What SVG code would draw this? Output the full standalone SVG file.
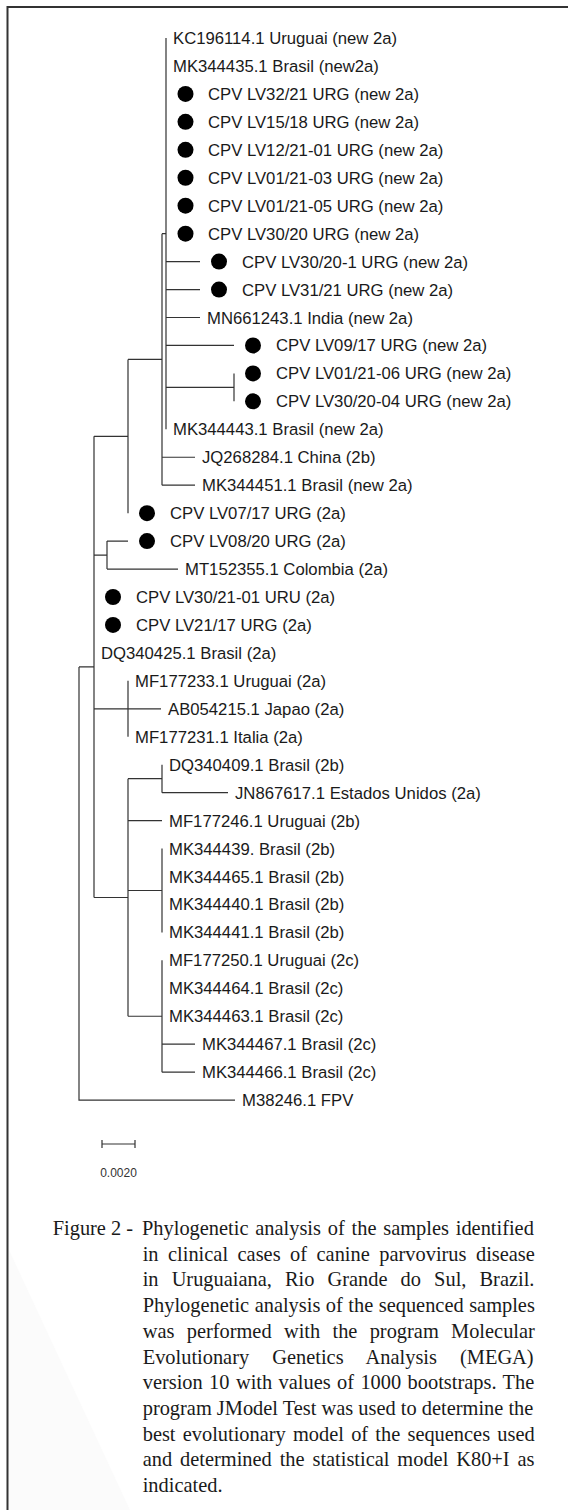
<svg xmlns="http://www.w3.org/2000/svg" width="568" height="1510" viewBox="0 0 568 1510">
<style>
.br{fill:none;stroke:#333;stroke-width:1.2}
.lb{font-family:"Liberation Sans",Arial,sans-serif;font-size:16.7px;fill:#1a1a1a}
.dt{fill:#000}
.cap{font-family:"Liberation Serif","Times New Roman",serif;font-size:20.4px;fill:#1a1a1a}
.sc{font-family:"Liberation Sans",Arial,sans-serif;font-size:12px;fill:#333}
</style>
<rect width="568" height="1510" fill="#fff"/>
<polygon points="9,1250 9,1510 130,1510" fill="#fbfbfb"/>
<path d="M7.5,1510 V7 H568" fill="none" stroke="#333" stroke-width="2"/>
<g id="connectors" class="br">
<path d="M79,666.9 V1100.1 H235 M79,666.9 H94"/>
<path d="M94,436.3 V897.5 M94,436.3 H128 M94,555.1 H107 M94,708.8 H128 M94,897.5 H128"/>
<path d="M128,359.4 V513.15 M128,359.4 H162"/>
<path d="M162,233.65 V485.2 M162,233.65 H166 M162,457.25 H195 M162,485.2 H195"/>
<path d="M166,38 V429.3 M166,261.6 H200 M166,289.55 H200 M166,317.5 H200 M166,345.45 H234 M166,387.4 H234"/>
<path d="M234,373.4 V401.35"/>
<path d="M107,541.1 V569.05 M107,541.1 H128 M107,569.05 H178"/>
<path d="M128,680.85 V736.75 M128,708.8 H161"/>
<path d="M128,778.7 V1016.25 M128,778.7 H162 M128,820.6 H162 M128,890.5 H162 M128,1016.25 H162"/>
<path d="M162,764.7 V792.65 M162,792.65 H228"/>
<path d="M162,848.55 V932.4"/>
<path d="M162,960.35 V1072.15 M162,1044.2 H195 M162,1072.15 H195"/>
</g>
<g id="n1"><text class="lb" x="173" y="44">KC196114.1 Uruguai (new 2a)</text></g>
<g id="n2"><text class="lb" x="173" y="72">MK344435.1 Brasil (new2a)</text></g>
<g id="n3"><circle class="dt" cx="185.5" cy="93.9" r="8"/><text class="lb" x="208" y="99.9">CPV LV32/21 URG (new 2a)</text></g>
<g id="n4"><circle class="dt" cx="185.5" cy="121.85" r="8"/><text class="lb" x="208" y="127.85">CPV LV15/18 URG (new 2a)</text></g>
<g id="n5"><circle class="dt" cx="185.5" cy="149.8" r="8"/><text class="lb" x="208" y="155.8">CPV LV12/21-01 URG (new 2a)</text></g>
<g id="n6"><circle class="dt" cx="185.5" cy="177.75" r="8"/><text class="lb" x="208" y="183.75">CPV LV01/21-03 URG (new 2a)</text></g>
<g id="n7"><circle class="dt" cx="185.5" cy="205.7" r="8"/><text class="lb" x="208" y="211.7">CPV LV01/21-05 URG (new 2a)</text></g>
<g id="n8"><circle class="dt" cx="185.5" cy="233.65" r="8"/><text class="lb" x="208" y="239.65">CPV LV30/20 URG (new 2a)</text></g>
<g id="n9"><circle class="dt" cx="219" cy="261.6" r="8"/><text class="lb" x="242" y="267.6">CPV LV30/20-1 URG (new 2a)</text></g>
<g id="n10"><circle class="dt" cx="219" cy="289.55" r="8"/><text class="lb" x="242" y="295.55">CPV LV31/21 URG (new 2a)</text></g>
<g id="n11"><text class="lb" x="207" y="323.5">MN661243.1 India (new 2a)</text></g>
<g id="n12"><circle class="dt" cx="253" cy="345.45" r="8"/><text class="lb" x="276" y="351.45">CPV LV09/17 URG (new 2a)</text></g>
<g id="n13"><circle class="dt" cx="253" cy="373.4" r="8"/><text class="lb" x="276" y="379.4">CPV LV01/21-06 URG (new 2a)</text></g>
<g id="n14"><circle class="dt" cx="253" cy="401.35" r="8"/><text class="lb" x="276" y="407.35">CPV LV30/20-04 URG (new 2a)</text></g>
<g id="n15"><text class="lb" x="173" y="435.3">MK344443.1 Brasil (new 2a)</text></g>
<g id="n16"><text class="lb" x="202" y="463.25">JQ268284.1 China (2b)</text></g>
<g id="n17"><text class="lb" x="202" y="491.2">MK344451.1 Brasil (new 2a)</text></g>
<g id="n18"><circle class="dt" cx="147" cy="513.15" r="8"/><text class="lb" x="170" y="519.15">CPV LV07/17 URG (2a)</text></g>
<g id="n19"><circle class="dt" cx="147" cy="541.1" r="8"/><text class="lb" x="170" y="547.1">CPV LV08/20 URG (2a)</text></g>
<g id="n20"><text class="lb" x="185" y="575.05">MT152355.1 Colombia (2a)</text></g>
<g id="n21"><circle class="dt" cx="113" cy="597" r="8"/><text class="lb" x="136" y="603">CPV LV30/21-01 URU (2a)</text></g>
<g id="n22"><circle class="dt" cx="113" cy="624.95" r="8"/><text class="lb" x="136" y="630.95">CPV LV21/17 URG (2a)</text></g>
<g id="n23"><text class="lb" x="101" y="658.9">DQ340425.1 Brasil (2a)</text></g>
<g id="n24"><text class="lb" x="135" y="686.85">MF177233.1 Uruguai (2a)</text></g>
<g id="n25"><text class="lb" x="168" y="714.8">AB054215.1 Japao (2a)</text></g>
<g id="n26"><text class="lb" x="135" y="742.75">MF177231.1 Italia (2a)</text></g>
<g id="n27"><text class="lb" x="169" y="770.7">DQ340409.1 Brasil (2b)</text></g>
<g id="n28"><text class="lb" x="235" y="798.65">JN867617.1 Estados Unidos (2a)</text></g>
<g id="n29"><text class="lb" x="169" y="826.6">MF177246.1 Uruguai (2b)</text></g>
<g id="n30"><text class="lb" x="169" y="854.55">MK344439. Brasil (2b)</text></g>
<g id="n31"><text class="lb" x="169" y="882.5">MK344465.1 Brasil (2b)</text></g>
<g id="n32"><text class="lb" x="169" y="910.45">MK344440.1 Brasil (2b)</text></g>
<g id="n33"><text class="lb" x="169" y="938.4">MK344441.1 Brasil (2b)</text></g>
<g id="n34"><text class="lb" x="169" y="966.35">MF177250.1 Uruguai (2c)</text></g>
<g id="n35"><text class="lb" x="169" y="994.3">MK344464.1 Brasil (2c)</text></g>
<g id="n36"><text class="lb" x="169" y="1022.25">MK344463.1 Brasil (2c)</text></g>
<g id="n37"><text class="lb" x="202" y="1050.2">MK344467.1 Brasil (2c)</text></g>
<g id="n38"><text class="lb" x="202" y="1078.15">MK344466.1 Brasil (2c)</text></g>
<g id="n39"><text class="lb" x="242" y="1106.1">M38246.1 FPV</text></g>
<g id="scalebar">
<path d="M102,1144 H135 M102,1140 V1148 M135,1140 V1148" fill="none" stroke="#333" stroke-width="1.2"/>
<text class="sc" x="118.5" y="1177" text-anchor="middle">0.0020</text>
</g>
<g id="caption" class="cap">
<text x="52.7" y="1235">Figure 2 -</text>
<text x="142" y="1235" word-spacing="1.7">Phylogenetic analysis of the samples identified</text>
<text x="142.7" y="1260.7" word-spacing="4.4">in clinical cases of canine parvovirus disease</text>
<text x="142.7" y="1286.4" word-spacing="8">in Uruguaiana, Rio Grande do Sul, Brazil.</text>
<text x="142.7" y="1312.1" word-spacing="0.4">Phylogenetic analysis of the sequenced samples</text>
<text x="142.7" y="1337.8" word-spacing="7.2">was performed with the program Molecular</text>
<text x="142.7" y="1363.5" word-spacing="18">Evolutionary Genetics Analysis (MEGA)</text>
<text x="142.7" y="1389.2" word-spacing="1.3">version 10 with values of 1000 bootstraps. The</text>
<text x="142.7" y="1414.9">program JModel Test was used to determine the</text>
<text x="142.7" y="1440.6" word-spacing="2.1">best evolutionary model of the sequences used</text>
<text x="142.7" y="1466.3" word-spacing="2.8">and determined the statistical model K80+I as</text>
<text x="142.7" y="1492">indicated.</text>
</g>
</svg>
